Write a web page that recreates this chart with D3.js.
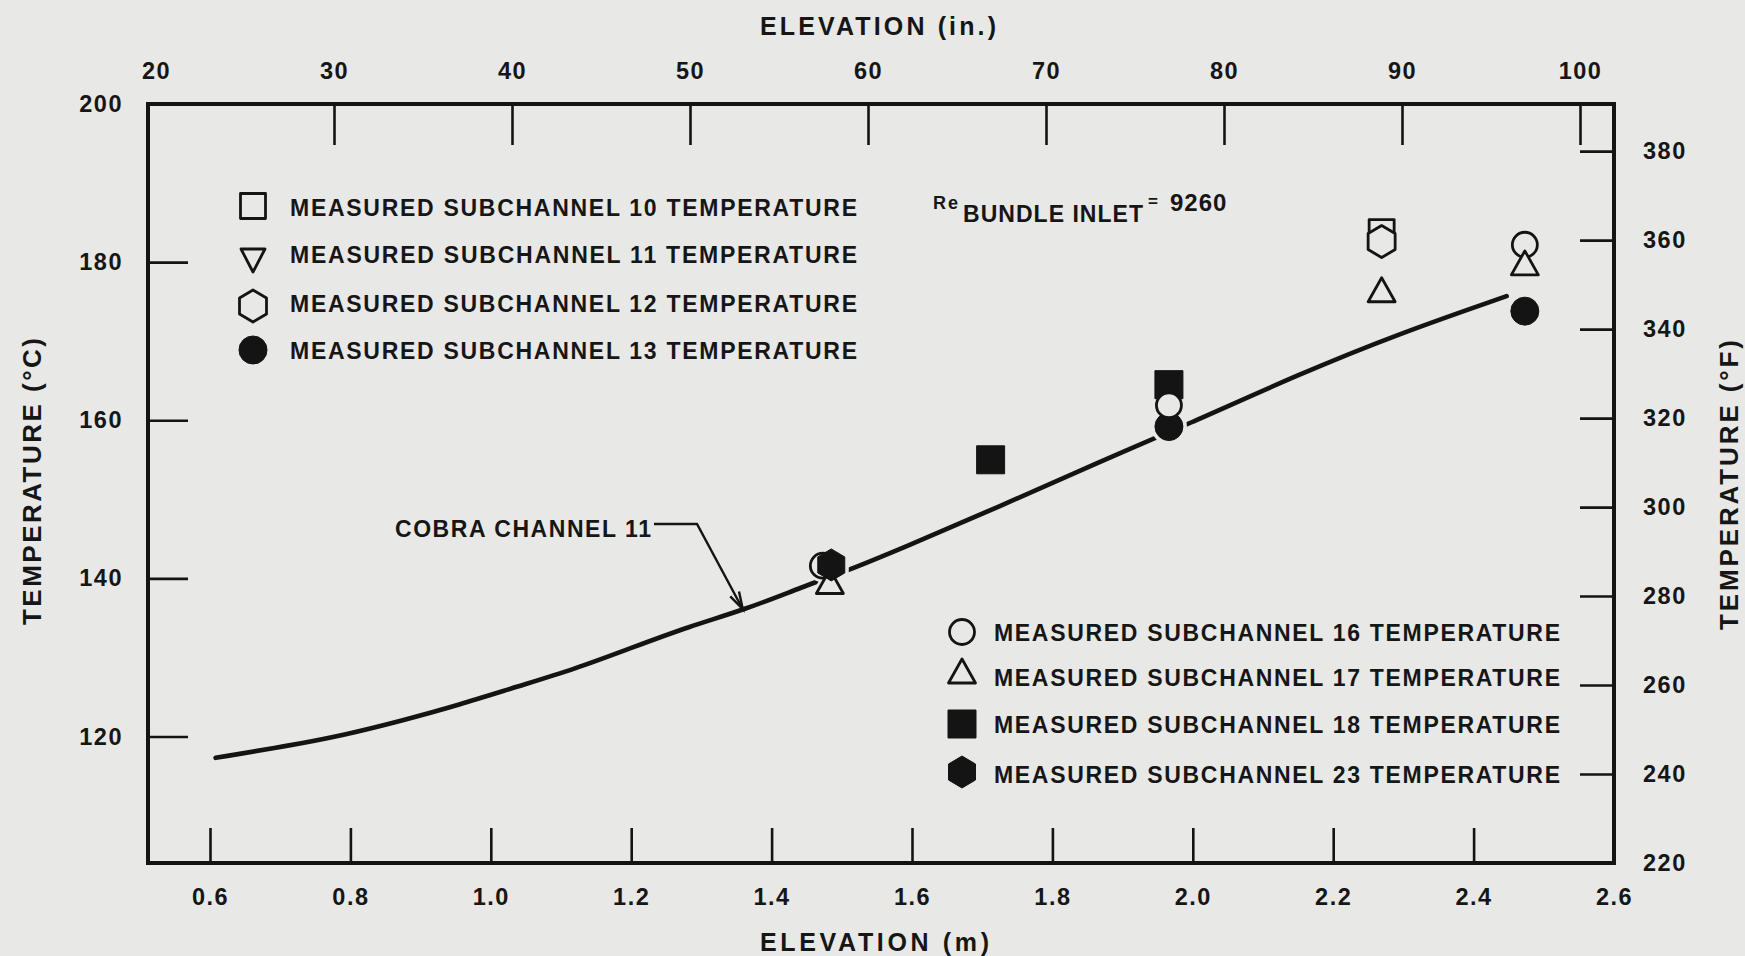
<!DOCTYPE html>
<html>
<head>
<meta charset="utf-8">
<script src="https://cdn.jsdelivr.net/npm/d3@7"></script>
<style>
  html, body { margin: 0; padding: 0; background: #e8e8e6; }
  svg { display: block; }
  text { font-family: "Liberation Sans Narrow", "Liberation Sans", Arial, sans-serif; fill: #161616; font-weight: bold; }
</style>
</head>
<body>
<svg id="chart" width="1745" height="956"></svg>
<script>
// ---- COBRA channel 11 prediction: elevation (m) and temperature (°C) ----
const cobraElev = [0.608, 0.710, 0.792, 0.873, 0.955, 1.037, 1.119, 1.200, 1.282, 1.364,
                   1.446, 1.503, 1.583, 1.725, 1.868, 1.991, 2.153, 2.295, 2.447];
const cobraTemp = [117.3, 118.8, 120.2, 122.0, 124.0, 126.3, 128.5, 131.2, 133.9, 136.1,
                   139.0, 140.8, 143.7, 149.1, 154.8, 159.4, 165.9, 171.0, 175.7];

// ---- measured subchannel temperatures: [elevation (m), temperature (°C)] ----
const sub10 = [[2.269, 183.8]];
const sub11 = [];
const sub12 = [[2.269, 182.6]];
const sub13 = [[1.966, 159.2], [2.473, 173.8]];
const sub16 = [[1.473, 141.6], [1.966, 161.9], [2.473, 182.2]];
const sub17 = [[1.483, 139.1], [2.269, 176.0], [2.473, 179.4]];
const sub18 = [[1.712, 155.0], [1.966, 164.5]];
const sub23 = [[1.485, 141.7]];

// ---- tick values ----
const elevTicksM  = [0.6, 0.8, 1.0, 1.2, 1.4, 1.6, 1.8, 2.0, 2.2, 2.4, 2.6];
const elevTicksIn = [20, 30, 40, 50, 60, 70, 80, 90, 100];
const tempTicksC  = [120, 140, 160, 180, 200];
const tempTicksF  = [220, 240, 260, 280, 300, 320, 340, 360, 380];

// ---- legend text ----
const legendLeftLabels = [
  "MEASURED SUBCHANNEL 10 TEMPERATURE",
  "MEASURED SUBCHANNEL 11 TEMPERATURE",
  "MEASURED SUBCHANNEL 12 TEMPERATURE",
  "MEASURED SUBCHANNEL 13 TEMPERATURE"
];
const legendRightLabels = [
  "MEASURED SUBCHANNEL 16 TEMPERATURE",
  "MEASURED SUBCHANNEL 17 TEMPERATURE",
  "MEASURED SUBCHANNEL 18 TEMPERATURE",
  "MEASURED SUBCHANNEL 23 TEMPERATURE"
];

// ---- layout ----
const BG = "#e8e8e6", INK = "#141414";
const plot = { left: 148, right: 1614, top: 104, bottom: 863 };

const svg = d3.select("#chart");
svg.append("rect").attr("width", 1745).attr("height", 956).attr("fill", BG);

// scales: metres along the bottom, inches along the top, °C left, °F right
const x   = d3.scaleLinear().domain([0.6, 2.6]).range([210, plot.right]);
const xIn = d3.scaleLinear().domain([20, 100]).range([156, 1580]);
const yC  = d3.scaleLinear().domain([104, 200]).range([plot.bottom, plot.top]);
const yF  = d3.scaleLinear().domain([220, 390.6]).range([plot.bottom, plot.top]);

// ---- axes (ticks point into the plot) ----
function styleAxis(g, edgeValues) {
  g.select(".domain").remove();
  g.selectAll(".tick line").attr("stroke", INK).attr("stroke-width", 2.6);
  g.selectAll(".tick").filter(d => edgeValues.includes(d)).select("line").remove();
  g.selectAll(".tick text")
    .style("font-size", "23.5px")
    .style("letter-spacing", "1.5px");
}

svg.append("g")
  .attr("transform", `translate(0,${plot.bottom})`)
  .call(d3.axisBottom(x).tickValues(elevTicksM).tickFormat(d3.format(".1f"))
        .tickSizeInner(-35).tickSizeOuter(0).tickPadding(25))
  .call(g => styleAxis(g, [2.6]));

svg.append("g")
  .attr("transform", `translate(0,${plot.top})`)
  .call(d3.axisTop(xIn).tickValues(elevTicksIn).tickFormat(d3.format("d"))
        .tickSizeInner(-41).tickSizeOuter(0).tickPadding(25))
  .call(g => styleAxis(g, [20]));

svg.append("g")
  .attr("transform", `translate(${plot.left},0)`)
  .call(d3.axisLeft(yC).tickValues(tempTicksC).tickFormat(d3.format("d"))
        .tickSizeInner(-40).tickSizeOuter(0).tickPadding(25))
  .call(g => styleAxis(g, [200]));

svg.append("g")
  .attr("transform", `translate(${plot.right},0)`)
  .call(d3.axisRight(yF).tickValues(tempTicksF).tickFormat(d3.format("d"))
        .tickSizeInner(-34).tickSizeOuter(0).tickPadding(29))
  .call(g => styleAxis(g, [220]));

// plot frame
svg.append("rect")
  .attr("x", plot.left).attr("y", plot.top)
  .attr("width", plot.right - plot.left).attr("height", plot.bottom - plot.top)
  .attr("fill", "none").attr("stroke", INK).attr("stroke-width", 4);

// ---- axis titles ----
svg.append("text").attr("x", 760).attr("y", 35)
  .attr("textLength", 236).style("font-size", "25px")
  .text("ELEVATION (in.)");
svg.append("text").attr("x", 760).attr("y", 951)
  .attr("textLength", 229).style("font-size", "25px")
  .text("ELEVATION (m)");
svg.append("text")
  .attr("transform", "translate(41,625) rotate(-90)")
  .attr("textLength", 287).style("font-size", "26px")
  .text("TEMPERATURE (°C)");
svg.append("text")
  .attr("transform", "translate(1738,630) rotate(-90)")
  .attr("textLength", 290).style("font-size", "26px")
  .text("TEMPERATURE (°F)");

// ---- COBRA prediction curve ----
const cobra = cobraElev.map((e, i) => [e, cobraTemp[i]]);
svg.append("path")
  .datum(cobra)
  .attr("d", d3.line().x(d => x(d[0])).y(d => yC(d[1])).curve(d3.curveBasis))
  .attr("fill", "none").attr("stroke", INK).attr("stroke-width", 4.6)
  .attr("stroke-linecap", "round");

// ---- marker shapes ----
const poly = pts => d3.line()(pts) + "Z";
const circle = r => d3.symbol(d3.symbolCircle, Math.PI * r * r)();
const shapes = {
  square:       poly([[-12.5, -12.5], [12.5, -12.5], [12.5, 12.5], [-12.5, 12.5]]),
  squareFilled: poly([[-14, -14], [14, -14], [14, 14], [-14, 14]]),
  triangle:     poly([[0, -16], [13.5, 8], [-13.5, 8]]),
  triangleDown: poly([[0, 15], [12, -8], [-12, -8]]),
  hexagon:      poly([[0, -16], [13.5, -8], [13.5, 8], [0, 16], [-13.5, 8], [-13.5, -8]]),
  circle:       circle(12.5),
  circleFilled: circle(14)
};

// series styles, in drawing order
const series = [
  { data: sub13, shape: "circleFilled", filled: true },
  { data: sub18, shape: "squareFilled", filled: true },
  { data: sub10, shape: "square",       filled: false },
  { data: sub12, shape: "hexagon",      filled: false },
  { data: sub11, shape: "triangleDown", filled: false },
  { data: sub16, shape: "circle",       filled: false },
  { data: sub17, shape: "triangle",     filled: false },
  { data: sub23, shape: "hexagon",      filled: true }
];

function styleMarker(sel, filled) {
  sel.attr("fill", filled ? INK : BG)
     .attr("stroke", INK).attr("stroke-width", filled ? 1 : 2.8)
     .attr("stroke-linejoin", "round");
}

// background halos that break the curve around each marker
const halos = svg.append("g");
series.forEach(s => {
  halos.selectAll(null).data(s.data).join("path")
    .attr("d", shapes[s.shape])
    .attr("transform", d => `translate(${x(d[0])},${yC(d[1])})`)
    .attr("fill", BG).attr("stroke", BG).attr("stroke-width", 8);
});

const marks = svg.append("g");
series.forEach(s => {
  marks.selectAll(null).data(s.data).join("path")
    .attr("d", shapes[s.shape])
    .attr("transform", d => `translate(${x(d[0])},${yC(d[1])})`)
    .call(styleMarker, s.filled);
});

// ---- legends ----
const legendLeftShapes  = [["square", false], ["triangleDown", false], ["hexagon", false], ["circleFilled", true]];
const legendRightShapes = [["circle", false], ["triangle", false], ["squareFilled", true], ["hexagon", true]];

function drawLegend(labels, shapeList, symX, textX, symY, baseY, textLen) {
  const g = svg.append("g");
  labels.forEach((label, i) => {
    g.append("path")
      .attr("d", shapes[shapeList[i][0]])
      .attr("transform", `translate(${symX},${symY[i]})`)
      .call(styleMarker, shapeList[i][1]);
    g.append("text")
      .attr("x", textX).attr("y", baseY[i])
      .attr("textLength", textLen)
      .style("font-size", "23px")
      .text(label);
  });
}
drawLegend(legendLeftLabels, legendLeftShapes, 253, 290,
           [206, 257, 306, 350], [216, 263, 311.5, 359], 567);
drawLegend(legendRightLabels, legendRightShapes, 962, 994,
           [632, 675, 724, 772], [641, 685.5, 733, 783], 566);

// ---- Reynolds number note ----
svg.append("text").attr("x", 933).attr("y", 209).attr("textLength", 25)
  .style("font-size", "18px").text("Re");
svg.append("text").attr("x", 963).attr("y", 222).attr("textLength", 180)
  .style("font-size", "23px").text("BUNDLE INLET");
svg.append("text").attr("x", 1148).attr("y", 207)
  .style("font-size", "17px").text("=");
svg.append("text").attr("x", 1170).attr("y", 211)
  .style("font-size", "24px").style("letter-spacing", "1px").text("9260");

// ---- COBRA curve annotation ----
const arrowTip = [x(1.359), yC(136.1)];
svg.append("text").attr("x", 395).attr("y", 536.5).attr("textLength", 256)
  .style("font-size", "23px").text("COBRA CHANNEL 11");
const elbow = [697, 524];
svg.append("path")
  .attr("d", `M654,524H${elbow[0]}L${arrowTip[0]},${arrowTip[1]}`)
  .attr("fill", "none").attr("stroke", INK).attr("stroke-width", 2.4);
const ang = Math.atan2(arrowTip[1] - elbow[1], arrowTip[0] - elbow[0]);
const head = [ang + Math.PI - 0.28, ang + Math.PI + 0.28]
  .map(a => [arrowTip[0] + 18 * Math.cos(a), arrowTip[1] + 18 * Math.sin(a)]);
svg.append("path")
  .attr("d", `M${head[0]}L${arrowTip[0]},${arrowTip[1]}L${head[1]}`)
  .attr("fill", "none").attr("stroke", INK).attr("stroke-width", 2.4);
</script>
</body>
</html>
